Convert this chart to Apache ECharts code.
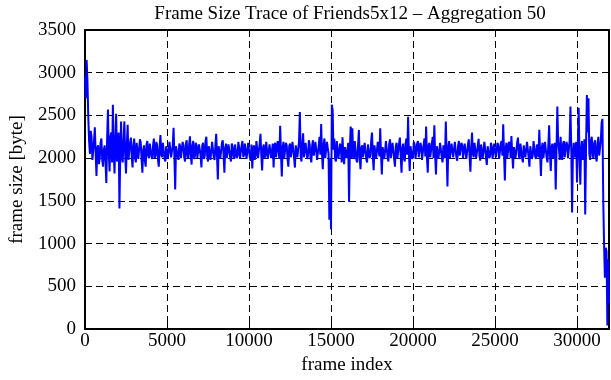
<!DOCTYPE html>
<html>
<head>
<meta charset="utf-8">
<script src="https://cdn.jsdelivr.net/npm/echarts@6/dist/echarts.min.js"></script>
<style>html,body{margin:0;padding:0;background:#fff}#c{width:611px;height:380px}</style>
</head>
<body>
<div id="c"></div>
<script>
var titleText = 'Frame Size Trace of Friends5x12 \u2013 Aggregation 50';
var xName = 'frame index';
var yName = 'frame size [byte]';
var frameStep = 50;
var xTicks = [0, 5000, 10000, 15000, 20000, 25000, 30000];
var yTicks = [0, 500, 1000, 1500, 2000, 2500, 3000, 3500];
// frame size per 50-frame aggregate, rows of 1000 frames
var frameSizes = [
  2950, 2700, 3150, 2900, 2480, 2200, 2050, 2320, 2250, 1980, 1960, 2200, 2360, 2050, 1790, 2120, 2150, 1930, 2000, 2180,
  2230, 1980, 1900, 2100, 2150, 1960, 1710, 2240, 2570, 2050, 1845, 2250, 2300, 1950, 2625, 2100, 1820, 2200, 2520, 1960,
  2000, 2300, 1410, 2050, 2430, 2000, 1950, 2200, 2430, 2050, 1820, 2150, 2390, 1980, 1960, 2180, 2240, 2010, 1890, 2150,
  2230, 2000, 1950, 2180, 2200, 1990, 2010, 2220, 2180, 1980, 1830, 2100, 2150, 1970, 1900, 2160, 2200, 2030, 2000, 2170,
  2180, 2020, 1990, 2150, 2230, 2000, 2030, 2190, 2150, 1980, 1900, 2130, 2270, 2040, 2010, 2180, 2160, 1990, 1960, 2140,
  2120, 1990, 2000, 2190, 2180, 2010, 1990, 2150, 2355, 2020, 1633, 2140, 2160, 2030, 1980, 2170, 2140, 2000, 2010, 2190,
  2150, 2010, 1960, 2170, 2210, 2020, 1990, 2160, 2255, 2040, 1925, 2150, 2200, 1990, 2020, 2180, 2150, 2000, 1980, 2160,
  2100, 2020, 1890, 2150, 2180, 1990, 2020, 2200, 2250, 2030, 1960, 2140, 2130, 1980, 2000, 2190, 2170, 2010, 1980, 2150,
  2285, 2020, 1750, 2140, 2160, 1990, 2010, 2180, 2210, 2030, 1830, 2120, 2170, 2000, 1990, 2160, 2140, 2010, 1960, 2170,
  2140, 2020, 1990, 2160, 2180, 2000, 2030, 2190, 2120, 1990, 1970, 2150, 2200, 2010, 2040, 2170, 2150, 1990, 2000, 2180,
  2190, 2010, 1970, 2160, 1880, 2100, 2150, 1980, 2020, 2200, 2180, 2000, 1990, 2170, 2285, 2030, 1855, 2120, 2160, 2000,
  2030, 2190, 2170, 1990, 1990, 2160, 2140, 2000, 2010, 2170, 1890, 2130, 2180, 2010, 2030, 2200, 2100, 1990, 2380, 2050,
  1785, 2120, 2190, 2000, 2010, 2180, 2150, 1990, 1900, 2140, 2170, 2010, 2020, 2190, 2210, 2000, 1890, 2150, 2160, 2010,
  2020, 2200, 2540, 2030, 1960, 2160, 2290, 2010, 2000, 2180, 2190, 1990, 2040, 2210, 2160, 2000, 1950, 2150, 2210, 2030,
  2010, 2190, 2180, 1980, 1960, 2150, 2250, 2040, 2400, 2050, 1870, 2160, 2230, 2000, 1990, 2190, 2200, 2050, 1280, 2000,
  1167, 2625, 2560, 2100, 2230, 1990, 1960, 2200, 2180, 1990, 2000, 2170, 2120, 1950, 2245, 2050, 1930, 2130, 2150, 2000,
  2010, 2180, 1490, 2100, 2370, 2000, 2350, 2050, 1990, 2200, 2180, 1980, 1950, 2160, 2330, 2000, 1870, 2120, 2150, 2010,
  2000, 2180, 2200, 1990, 1950, 2160, 2170, 2000, 2030, 2200, 2300, 2020, 1860, 2150, 2160, 1990, 2010, 2190, 2190, 2020,
  2350, 2040, 1808, 2130, 2150, 1990, 2000, 2200, 2190, 2010, 1960, 2170, 2220, 2000, 2010, 2180, 2160, 1990, 1900, 2140,
  2180, 2000, 1990, 2170, 2240, 2020, 1830, 2120, 2170, 1990, 1960, 2180, 2230, 2040, 2485, 2050, 1850, 2140, 2150, 1990,
  2020, 2190, 2160, 1990, 1990, 2170, 2200, 2010, 2030, 2180, 2140, 1980, 1960, 2160, 2230, 2020, 2370, 2000, 1830, 2150,
  2180, 2010, 2010, 2170, 2250, 2000, 2385, 2030, 1808, 2140, 2160, 1990, 1990, 2180, 2200, 2010, 1950, 2150, 2150, 2000,
  2430, 2050, 1668, 2120, 2200, 2000, 1990, 2170, 2160, 2010, 2030, 2190, 2180, 2000, 1970, 2150, 2200, 2030, 2010, 2180,
  2150, 2000, 2010, 2170, 2180, 1990, 1990, 2160, 2220, 2020, 1840, 2130, 2300, 2050, 2010, 2180, 2160, 2000, 1980, 2150,
  2225, 2030, 1970, 2160, 2150, 2000, 2020, 2190, 2190, 2010, 1920, 2140, 2160, 2000, 2030, 2180, 2140, 1990, 1990, 2170,
  2170, 2010, 2020, 2180, 2150, 1990, 2000, 2170, 2200, 2030, 2395, 2050, 1740, 2120, 2180, 2000, 2010, 2190, 2160, 2000,
  2260, 2040, 1880, 2130, 2150, 2000, 2010, 2180, 2240, 2030, 1990, 2170, 2180, 2000, 1950, 2150, 2170, 2010, 2020, 2190,
  2190, 2010, 1900, 2140, 2140, 1990, 2030, 2200, 2210, 2020, 1990, 2160, 2160, 2010, 2333, 2050, 1790, 2120, 2180, 2000,
  2020, 2190, 2200, 2000, 1950, 2150, 2385, 2050, 1850, 2130, 2170, 2000, 2000, 2180, 1633, 2100, 2605, 2200, 2100, 1980,
  2250, 2030, 1980, 2170, 2200, 2010, 2020, 2190, 2160, 2000, 1990, 2200, 2605, 2100, 1365, 2050, 2180, 2010, 2000, 2190,
  1715, 2150, 2590, 2050, 1690, 2100, 2200, 1980, 2050, 2220, 1340, 2100, 2740, 2300, 2700, 2050, 1980, 2200, 2250, 2030,
  2000, 2180, 2210, 2010, 1960, 2170, 2250, 2030, 2030, 2200, 2415, 2460, 1500, 990, 600, 950, 910, 40, 816, 300
];
var xMax = 31950;

var data = frameSizes.map(function (v, i) { return [i * frameStep, v]; });
var font = 'Liberation Serif, Times New Roman, serif';
var gridLine = { show: true, lineStyle: { color: '#000', width: 1, type: [7, 4] } };

var chart = echarts.init(document.getElementById('c'), null, { renderer: 'canvas' });
chart.setOption({
  animation: false,
  backgroundColor: '#fff',
  title: {
    text: titleText, left: 345, top: 0, textAlign: 'center',
    textStyle: { fontFamily: font, fontSize: 19, fontWeight: 'normal', color: '#000' }
  },
  grid: { left: 80, right: 2, top: 30, bottom: 50, containLabel: false },
  xAxis: [{
    type: 'value', min: 0, max: xMax, interval: 5000,
    name: xName, nameLocation: 'middle', nameGap: 27,
    nameTextStyle: { fontFamily: font, fontSize: 19, color: '#000' },
    axisLine: { show: true, onZero: false, lineStyle: { color: '#000', width: 2 } },
    axisTick: { show: true, inside: true, length: 7, lineStyle: { color: '#000', width: 1 } },
    axisLabel: { fontFamily: font, fontSize: 19, color: '#000', margin: 3, showMaxLabel: false,
      formatter: function (v) { return xTicks.indexOf(v) >= 0 ? String(v) : ''; } },
    splitLine: gridLine
  }, {
    type: 'value', min: 0, max: xMax, interval: 5000, position: 'top',
    axisLine: { show: true, onZero: false, lineStyle: { color: '#000', width: 2 } },
    axisTick: { show: true, inside: true, length: 7, lineStyle: { color: '#000', width: 1 } },
    axisLabel: { show: false }, splitLine: { show: false }
  }],
  yAxis: [{
    type: 'value', min: 0, max: 3500, interval: 500,
    name: yName, nameLocation: 'middle', nameGap: 58,
    nameTextStyle: { fontFamily: font, fontSize: 19, color: '#000' },
    axisLine: { show: true, onZero: false, lineStyle: { color: '#000', width: 2 } },
    axisTick: { show: true, inside: true, length: 7, lineStyle: { color: '#000', width: 1 } },
    axisLabel: { fontFamily: font, fontSize: 19, color: '#000', margin: 9,
      formatter: function (v) { return yTicks.indexOf(v) >= 0 ? String(v) : ''; } },
    splitLine: gridLine
  }, {
    type: 'value', min: 0, max: 3500, interval: 500, position: 'right',
    axisLine: { show: true, onZero: false, lineStyle: { color: '#000', width: 2 } },
    axisTick: { show: true, inside: true, length: 7, lineStyle: { color: '#000', width: 1 } },
    axisLabel: { show: false }, splitLine: { show: false }
  }],
  series: [{
    type: 'line', data: data, xAxisIndex: 0, yAxisIndex: 0,
    showSymbol: false, symbol: 'none',
    lineStyle: { color: '#0000ff', width: 2 }, z: 3
  }]
});
</script>
</body>
</html>
